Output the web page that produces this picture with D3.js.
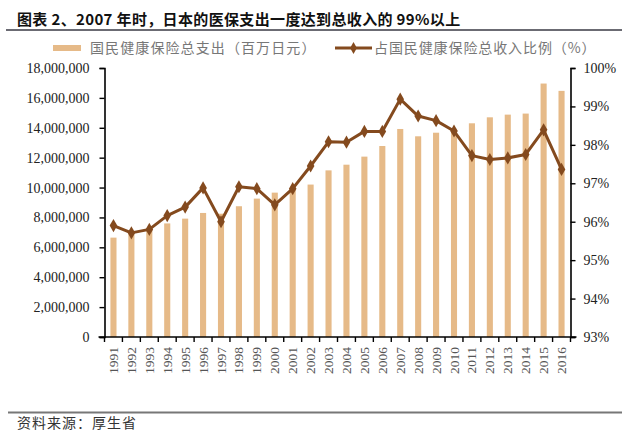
<!DOCTYPE html>
<html><head><meta charset="utf-8">
<script src="https://cdn.jsdelivr.net/npm/d3@7/dist/d3.min.js"></script>
<style>body{margin:0;background:#fff}svg{display:block}</style>
</head><body><svg id="c" width="640" height="448"></svg>
<script>
const years = ["1991","1992","1993","1994","1995","1996","1997","1998","1999","2000","2001","2002","2003","2004","2005","2006","2007","2008","2009","2010","2011","2012","2013","2014","2015","2016"];
const spending = [6650000,6900000,7150000,7600000,7920000,8300000,8250000,8750000,9260000,9660000,9850000,10200000,11150000,11530000,12070000,12780000,13920000,13430000,13670000,13800000,14300000,14700000,14880000,14950000,16960000,16470000];
const ratio = [95.90,95.71,95.80,96.16,96.38,96.88,96.00,96.91,96.86,96.44,96.86,97.45,98.08,98.07,98.35,98.35,99.19,98.75,98.63,98.36,97.72,97.62,97.66,97.75,98.39,97.36];
const leftTicks = [0,2000000,4000000,6000000,8000000,10000000,12000000,14000000,16000000,18000000];
const rightTicks = [93,94,95,96,97,98,99,100];
const title = "图表 2、2007 年时，日本的医保支出一度达到总收入的 99%以上";
const legendBar = "国民健康保险总支出（百万日元）";
const legendLine = "占国民健康保险总收入比例（%）";
const source = "资料来源：厚生省";

const svg = d3.select("#c");
const L = 104.5, R = 570.5, T = 68, B = 337;
const barColor = "#E6BA88", lineColor = "#844A1E";
const serif = "'Liberation Serif','Times New Roman',serif";
const cjk = "'Noto Sans CJK SC','Noto Sans CJK JP',sans-serif";

const x = d3.scaleBand().domain(years).range([L, R]).paddingInner(0.66).paddingOuter(0.33);
const yL = d3.scaleLinear().domain([0,18000000]).range([B,T]);
const yR = d3.scaleLinear().domain([93,100]).range([B,T]);

// title
svg.append("text").attr("x",17).attr("y",25).attr("font-family",cjk).attr("font-weight",700)
  .attr("font-size",15).attr("letter-spacing",0.35).attr("fill","#111").text(title);
svg.append("line").attr("x1",6).attr("x2",622).attr("y1",30).attr("y2",30).attr("stroke","#3a3a44").attr("stroke-width",1.5);

// legend
svg.append("rect").attr("x",53).attr("y",45).attr("width",28).attr("height",6).attr("fill",barColor);
svg.append("text").attr("x",90).attr("y",53).attr("font-family",cjk).attr("font-size",14).attr("letter-spacing",1.1).attr("fill","#777").text(legendBar);
svg.append("line").attr("x1",335).attr("x2",372).attr("y1",48).attr("y2",48).attr("stroke",lineColor).attr("stroke-width",3);
svg.append("path").attr("d",d3.symbol(d3.symbolDiamond,40)()).attr("transform","translate(353.5,48)").attr("fill",lineColor);
svg.append("text").attr("x",374).attr("y",53).attr("font-family",cjk).attr("font-size",14).attr("letter-spacing",0.9).attr("fill","#777").text(legendLine);

// bars
svg.append("g").selectAll("rect").data(years).join("rect")
  .attr("x",d=>x(d)).attr("width",x.bandwidth())
  .attr("y",(d,i)=>yL(spending[i])).attr("height",(d,i)=>B-yL(spending[i]))
  .attr("fill",barColor);

// line
const line = d3.line().x((d,i)=>x(years[i])+x.bandwidth()/2).y(d=>yR(d));
svg.append("path").datum(ratio).attr("d",line).attr("fill","none").attr("stroke",lineColor).attr("stroke-width",3).attr("stroke-linejoin","round");
svg.append("g").selectAll("path").data(ratio).join("path")
  .attr("d",d3.symbol(d3.symbolDiamond,50)())
  .attr("transform",(d,i)=>`translate(${x(years[i])+x.bandwidth()/2},${yR(d)})`)
  .attr("fill",lineColor);

// axes
const gl = svg.append("g").attr("transform",`translate(${L},0)`)
  .call(d3.axisLeft(yL).tickValues(leftTicks).tickSize(5).tickPadding(10).tickFormat(d3.format(",")));
const gr = svg.append("g").attr("transform",`translate(${R},0)`)
  .call(d3.axisRight(yR).tickValues(rightTicks).tickSize(5).tickPadding(8).tickFormat(d=>d+"%"));
[gl,gr].forEach(g=>{
  g.select(".domain").attr("stroke","#000").attr("stroke-width",1.6);
  g.selectAll(".tick line").attr("stroke","#000").attr("stroke-width",1.4);
  g.selectAll("text").attr("font-family",serif).attr("font-size",14).attr("fill","#222");
});
// bottom axis with ticks between bars
const bx = svg.append("g").attr("transform",`translate(0,${B})`);
bx.append("line").attr("x1",L-6).attr("x2",R+6).attr("y1",0).attr("y2",0).attr("stroke","#000").attr("stroke-width",1.6);
bx.selectAll("line.t").data(d3.range(years.length+1)).join("line").attr("class","t")
  .attr("x1",i=>L+i*(R-L)/years.length).attr("x2",i=>L+i*(R-L)/years.length)
  .attr("y1",0).attr("y2",5).attr("stroke","#000").attr("stroke-width",1.4);
bx.selectAll("text").data(years).join("text")
  .attr("transform",d=>`translate(${x(d)+x.bandwidth()/2+4.5},10) rotate(-90)`)
  .attr("text-anchor","end").attr("font-family",serif).attr("font-size",13.5).attr("fill","#555").text(d=>d);

// footer
svg.append("line").attr("x1",8).attr("x2",622).attr("y1",412.5).attr("y2",412.5).attr("stroke","#777").attr("stroke-width",2);
svg.append("text").attr("x",17).attr("y",428).attr("font-family",cjk).attr("font-size",14).attr("letter-spacing",1).attr("fill","#333").text(source);
</script></body></html>
